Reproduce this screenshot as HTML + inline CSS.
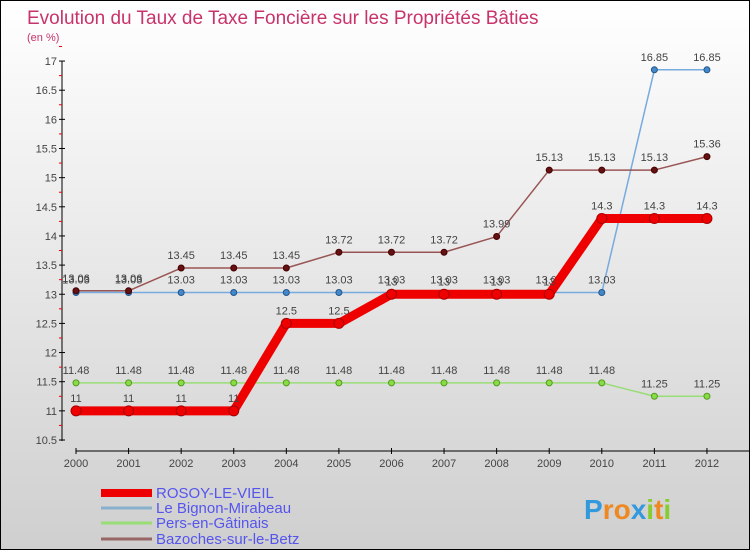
<!DOCTYPE html>
<html><head><meta charset="utf-8"><style>
body{margin:0}
#c{position:relative;width:750px;height:550px;box-sizing:border-box;border:1px solid #000;background:linear-gradient(#fff,#cfcfcf);font-family:"Liberation Sans",sans-serif;overflow:hidden}
svg{position:absolute;left:0;top:0}
</style></head><body>
<div id="c">
<svg id="s" width="750" height="550">
<text x="26" y="23" font-size="19" fill="#c8336b">Evolution du Taux de Taxe Foncière sur les Propriétés Bâties</text>
<text x="26" y="40" font-size="11" fill="#c8336b">(en %)</text>
</svg>
</div>
<script>
const years=[2000,2001,2002,2003,2004,2005,2006,2007,2008,2009,2010,2011,2012];
const seriesNames=["ROSOY-LE-VIEIL","Le Bignon-Mirabeau","Pers-en-Gâtinais","Bazoches-sur-le-Betz"];
const rosoy=[11,11,11,11,12.5,12.5,13,13,13,13,14.3,14.3,14.3];
const bignon=[13.03,13.03,13.03,13.03,13.03,13.03,13.03,13.03,13.03,13.03,13.03,16.85,16.85];
const pers=[11.48,11.48,11.48,11.48,11.48,11.48,11.48,11.48,11.48,11.48,11.48,11.25,11.25];
const bazoches=[13.06,13.06,13.45,13.45,13.45,13.72,13.72,13.72,13.99,15.13,15.13,15.13,15.36];
const yTicks=[10.5,11,11.5,12,12.5,13,13.5,14,14.5,15,15.5,16,16.5,17];
const NS="http://www.w3.org/2000/svg",s=document.getElementById('s');
const X=i=>75+i*52.58, Y=v=>439-(v-10.5)*58.3;
function el(t,a,p){const e=document.createElementNS(NS,t);for(const k in a)e.setAttribute(k,a[k]);(p||s).appendChild(e);return e;}
let ya=el('line',{x1:61,y1:60,x2:61,y2:440,stroke:'#000','stroke-width':1});


let xa=el('line',{x1:75,y1:450,x2:750,y2:450,stroke:'#000','stroke-width':1});


yTicks.forEach(v=>{
  el('line',{x1:58,y1:Y(v),x2:64,y2:Y(v),stroke:'#000'});
  el('line',{x1:58,y1:Y(v+0.25),x2:61,y2:Y(v+0.25),stroke:'#e00'});
  const t=el('text',{x:56,y:Y(v)+4,'font-size':11,fill:'#444','text-anchor':'end'});
  t.textContent=v;
  
  
});
years.forEach((y,i)=>{
  el('line',{x1:X(i),y1:447,x2:X(i),y2:453,stroke:'#000'});
  const t=el('text',{x:X(i),y:466,'font-size':11,fill:'#444','text-anchor':'middle'});
  t.textContent=y;
  
  
});
function series(vals,col,w,mk,mkStroke,r,name){
  const g=el('g',{});
  
  
  el('polyline',{points:vals.map((v,i)=>X(i)+','+Y(v)).join(' '),fill:'none',stroke:col,'stroke-width':w,'stroke-linejoin':'round'},g);
  vals.forEach((v,i)=>{
    const c=el('circle',{cx:X(i),cy:Y(v),r:r,fill:mk,stroke:mkStroke,'stroke-width':1},g);
    
    
    const t=el('text',{x:X(i),y:Y(v)-9,'font-size':11,fill:'#444','text-anchor':'middle'},g);
    t.textContent=v;
  });
}
series(pers,'#99dd77',1.5,'#88dd44','#559922',3,'series-pers');
series(bignon,'#77aadd',1.5,'#4488cc','#225588',3,'series-bignon');
series(bazoches,'#995555',1.5,'#661111','#440000',3,'series-bazoches');
series(rosoy,'#ee0000',9,'#ee0000','#aa0000',5,'series-rosoy');
const lc=['#ee0000','#88b0cc','#99dd77','#996666'],lw=[8,3,3,3],ly=[492,507,522,538];
seriesNames.forEach((n,i)=>{
  const l=el('line',{x1:100,y1:ly[i],x2:151,y2:ly[i],stroke:lc[i],'stroke-width':lw[i]});
  
  
  const t=el('text',{x:155,y:ly[i]+5,'font-size':15,fill:'#5555ee'});
  t.textContent=n;
  
  
});
const b=el('text',{x:583,y:518,'font-size':28,'font-weight':'bold',fill:'#3399dd'});


const letters=['P','r','o','x','i','t','i'],lcol=['#3399dd','#ee8822','#ee8822','#3399dd','#88cc33','#ee8822','#88cc33'];
letters.forEach((ch,i)=>{const ts=el('tspan',{fill:lcol[i]},b);ts.textContent=ch;});
</script>
</body></html>
